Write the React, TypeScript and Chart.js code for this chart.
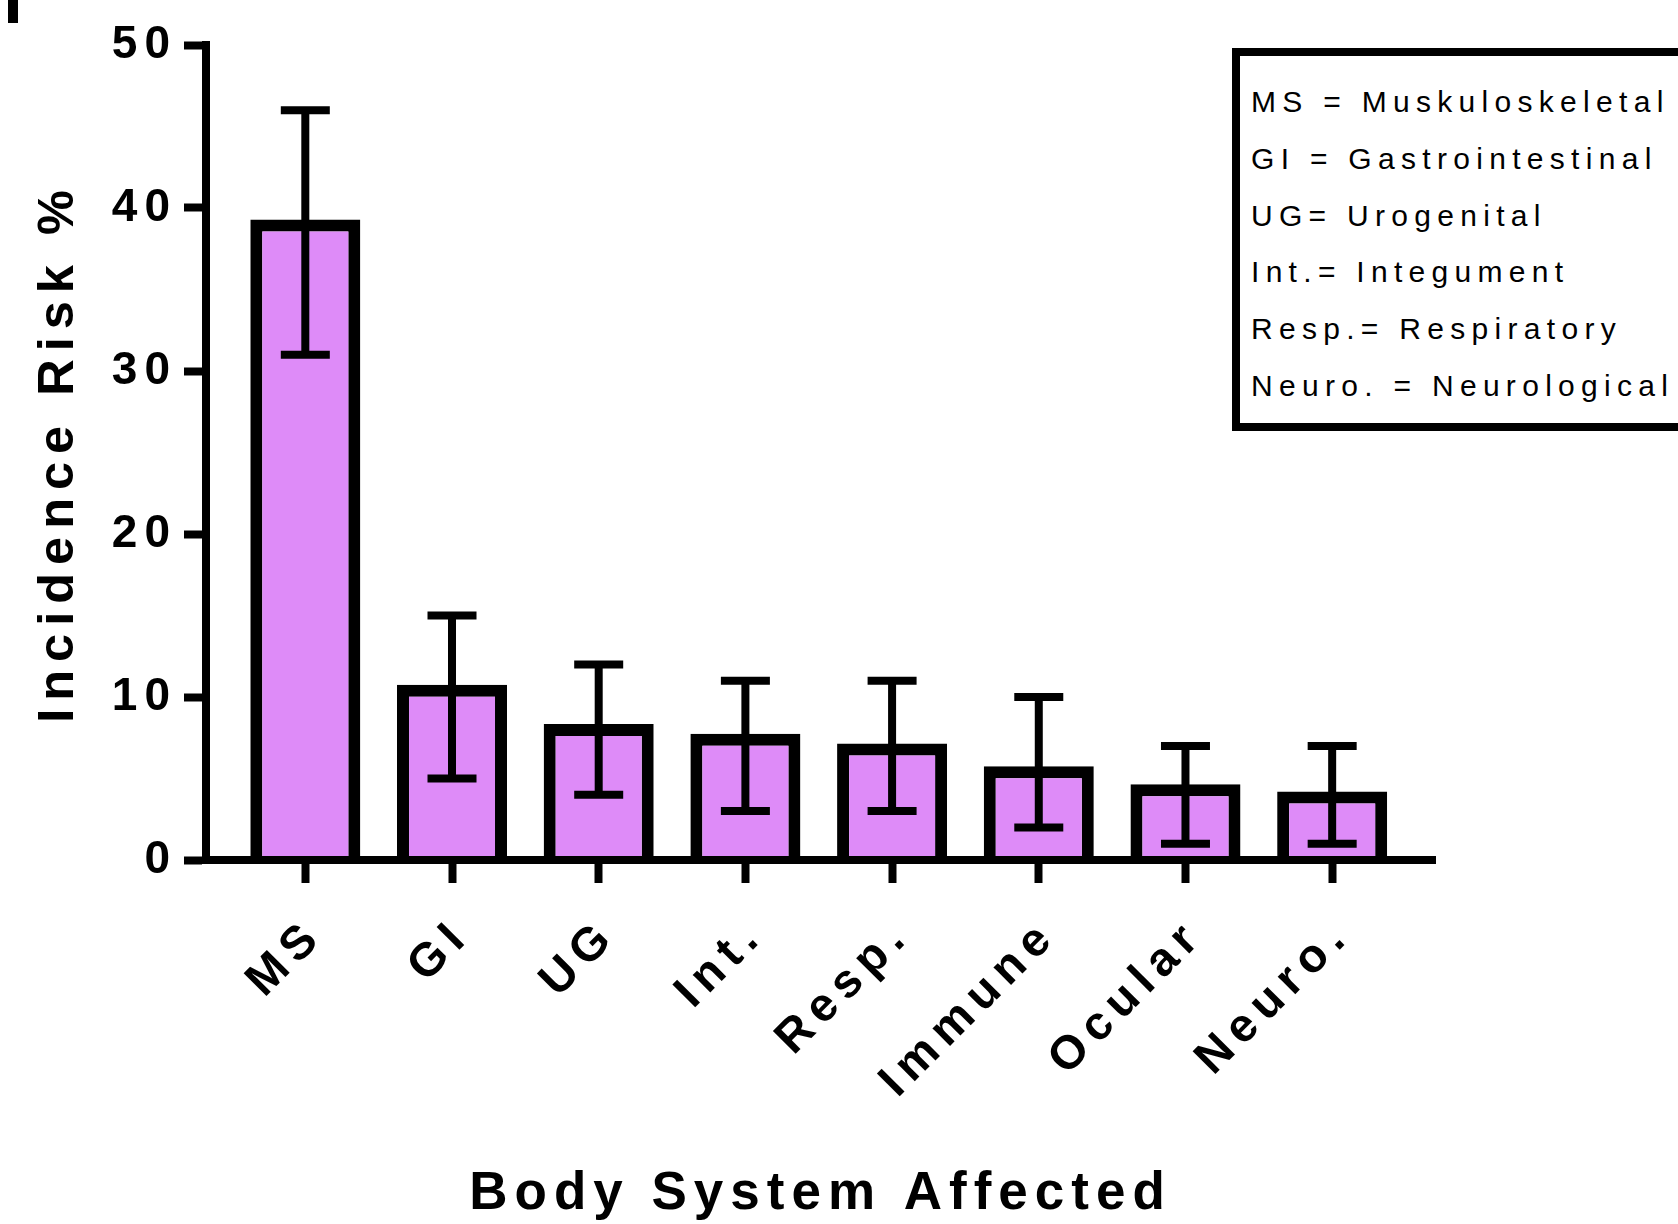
import React, { useEffect, useRef } from "react";
import { Chart, registerables } from "chart.js";

Chart.register(...registerables);

const categories = ["MS", "GI", "UG", "Int.", "Resp.", "Immune", "Ocular", "Neuro."];
const incidence = [39.3, 10.75, 8.35, 7.75, 7.15, 5.75, 4.65, 4.2];
const errorLow = [31, 5, 4, 3, 3, 2, 1, 1];
const errorHigh = [46, 15, 12, 11, 11, 10, 7, 7];
const yTicks = [0, 10, 20, 30, 40, 50];
const legendLines = [
  "MS = Muskuloskeletal",
  "GI = Gastrointestinal",
  "UG= Urogenital",
  "Int.= Integument",
  "Resp.= Respiratory",
  "Neuro. = Neurological",
];

const FAMILY = '"Liberation Sans", Arial, Helvetica, sans-serif';

// Layers with z <= 0 (y tick labels, x title) use the first spacing,
// layers with z > 0 (x tick labels, y title) use the second.
const spacingPlugin = {
  id: "letterSpacing",
  beforeDraw(chart: any) {
    chart.ctx.letterSpacing = "7px";
  },
  afterDatasetsDraw(chart: any) {
    chart.ctx.letterSpacing = "8px";
  },
};

const errorBarPlugin = {
  id: "errorBars",
  afterDatasetsDraw(chart: any) {
    const { ctx } = chart;
    const xs = chart.scales.x;
    const ys = chart.scales.y;
    ctx.save();
    ctx.strokeStyle = "#000";
    ctx.lineWidth = 8;
    ctx.lineCap = "butt";
    categories.forEach((_, i) => {
      const x = xs.getPixelForValue(i);
      const yh = ys.getPixelForValue(errorHigh[i]);
      const yl = ys.getPixelForValue(errorLow[i]);
      ctx.beginPath();
      ctx.moveTo(x, yh);
      ctx.lineTo(x, yl);
      ctx.moveTo(x - 24.5, yh);
      ctx.lineTo(x + 24.5, yh);
      ctx.moveTo(x - 24.5, yl);
      ctx.lineTo(x + 24.5, yl);
      ctx.stroke();
    });
    ctx.restore();
  },
};

export default function App() {
  const ref = useRef<HTMLCanvasElement>(null);

  useEffect(() => {
    if (!ref.current) return;
    const chart = new Chart(ref.current, {
      type: "bar",
      data: {
        datasets: [
          {
            label: "Incidence Risk %",
            data: categories.map((_, i) => ({ x: i, y: incidence[i] })),
            backgroundColor: "#DE8BF8",
            borderColor: "#000000",
            borderWidth: 12,
            borderSkipped: "start",
            barPercentage: 0.75,
            categoryPercentage: 1,
          } as any,
        ],
      },
      options: {
        responsive: false,
        animation: false,
        devicePixelRatio: 1,
        layout: { padding: { left: 0, top: 45, right: 243, bottom: 0 } },
        plugins: { legend: { display: false }, tooltip: { enabled: false } },
        scales: {
          x: {
            type: "linear",
            offset: false,
            min: -0.677,
            max: 7.701,
            afterBuildTicks: (axis: any) => {
              axis.ticks = categories.map((_, i) => ({ value: i }));
            },
            afterFit: (axis: any) => {
              axis.height = 364;
            },
            grid: {
              display: true,
              offset: false,
              drawOnChartArea: false,
              drawTicks: true,
              tickLength: 23,
              tickWidth: 8,
              tickColor: "#000",
              z: -1,
            },
            border: { display: true, width: 8, color: "#000", z: 1 },
            ticks: {
              z: 1,
              autoSkip: false,
              minRotation: 45,
              maxRotation: 45,
              padding: 25,
              labelOffset: 11,
              color: "#000",
              font: { family: FAMILY, size: 47, weight: "bold" },
              callback: (v: any) => categories[v] ?? "",
            },
            title: {
              display: true,
              text: "Body System Affected",
              color: "#000",
              font: { family: FAMILY, size: 53, weight: "bold", lineHeight: 1 },
              padding: { top: 0, bottom: 3 },
            },
          },
          y: {
            type: "linear",
            min: 0,
            max: 50,
            afterBuildTicks: (axis: any) => {
              axis.ticks = yTicks.map((v) => ({ value: v }));
            },
            afterFit: (axis: any) => {
              axis.width = 206;
            },
            grid: {
              display: true,
              drawOnChartArea: false,
              drawTicks: true,
              tickLength: 22,
              tickWidth: 8,
              tickColor: "#000",
              z: 1,
            },
            border: { display: true, width: 8, color: "#000", z: 1 },
            ticks: {
              z: 0,
              padding: 7,
              color: "#000",
              font: { family: FAMILY, size: 46, weight: "bold" },
            },
            title: {
              display: true,
              text: "Incidence Risk %",
              color: "#000",
              font: { family: FAMILY, size: 50.5, weight: "bold", lineHeight: 1 },
              padding: { top: 34, bottom: 0 },
            },
          },
        },
      } as any,
      plugins: [spacingPlugin, errorBarPlugin],
    });
    return () => chart.destroy();
  }, []);

  return (
    <div
      style={{
        position: "fixed",
        left: 0,
        top: 0,
        width: 1678,
        height: 1224,
        overflow: "hidden",
        background: "#fff",
      }}
    >
      <canvas
        ref={ref}
        width={1678}
        height={1224}
        style={{ position: "absolute", left: 0, top: 0, width: 1678, height: 1224 }}
      />
      <div style={{ position: "absolute", left: 8, top: 0, width: 10, height: 23, background: "#000" }} />
      <div
        style={{
          position: "absolute",
          left: 1232,
          top: 48,
          width: 480,
          height: 383,
          boxSizing: "border-box",
          border: "8px solid #000",
          paddingTop: 18,
          paddingLeft: 11,
          fontFamily: FAMILY,
          fontSize: 30,
          letterSpacing: "6.3px",
          lineHeight: "56.8px",
          color: "#000",
          whiteSpace: "nowrap",
          background: "#fff",
        }}
      >
        {legendLines.map((t) => (
          <div key={t}>{t}</div>
        ))}
      </div>
    </div>
  );
}
